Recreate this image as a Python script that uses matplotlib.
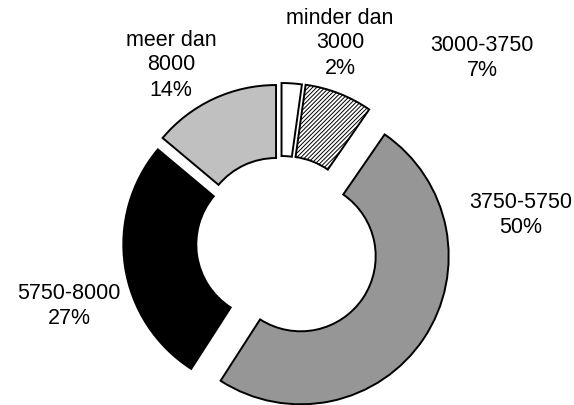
import matplotlib
matplotlib.use("Agg")
import matplotlib.pyplot as plt

plt.rcParams["font.family"] = ["Liberation Sans", "DejaVu Sans"]
plt.rcParams["hatch.linewidth"] = 0.7

# inkomensklassen en aandeel (%)
categories = ["minder dan\n3000", "3000-3750", "3750-5750", "5750-8000", "meer dan\n8000"]
shares = [2.2, 7.4, 49.5, 27.0, 13.9]

colors = ["white", "white", "#969696", "black", "#c0c0c0"]
hatches = [None, "////////", None, None, None]
explode = [12, 12.5, 24, 9.5, 11]  # offset in pixels

# label centres in pixel coordinates (x from left, y from top)
label_pos = [(340, 43), (482, 58), (521, 215), (69, 306), (171, 65)]

W, H = 574, 406
fig = plt.figure(figsize=(W / 100, H / 100), dpi=100)
ax = fig.add_axes([0, 0, 1, 1])

R = 148
ring = 73
center = (280.7, H - 244)

wedges, _ = ax.pie(
    shares,
    explode=explode,
    colors=colors,
    startangle=90,
    counterclock=False,
    radius=R,
    center=center,
    wedgeprops=dict(width=ring, edgecolor="black", linewidth=1.4),
)
for w, h in zip(wedges, hatches):
    if h:
        w.set_hatch(h)

for cat, val, (px, py) in zip(categories, shares, label_pos):
    ax.text(px, H - py, f"{cat}\n{val:.0f}%", ha="center", va="center",
            fontsize=15.5, linespacing=1.25, color="black")

ax.set_xlim(0, W)
ax.set_ylim(0, H)
ax.set_aspect("equal")
ax.axis("off")

fig.savefig("out.png", dpi=100, facecolor="white")
